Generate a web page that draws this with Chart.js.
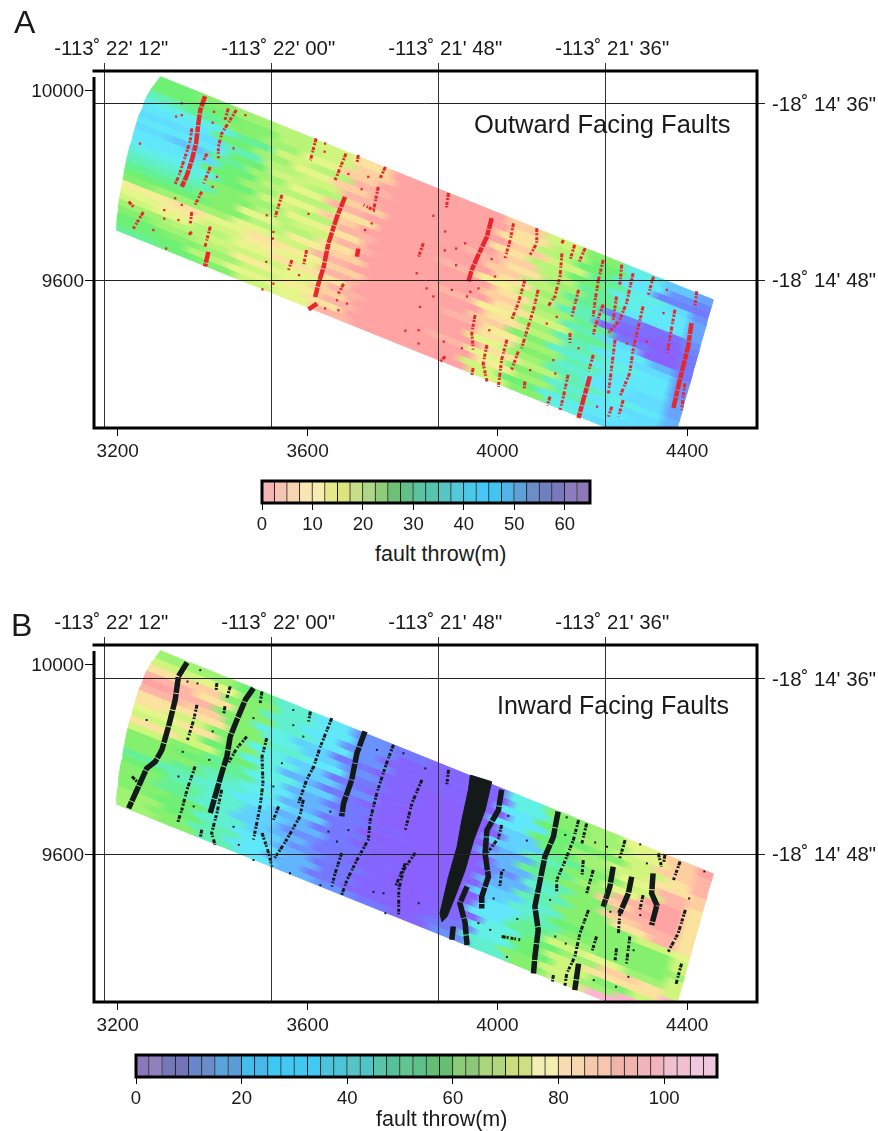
<!DOCTYPE html>
<html>
<head>
<meta charset="utf-8">
<title>Fault throw</title>
<script src="https://cdn.jsdelivr.net/npm/chart.js@4"></script>
<style>
  body { margin: 0; background: #fff; font-family: "Liberation Sans", Arial, sans-serif; color: #1a1a1a; }
  #page { position: relative; width: 878px; height: 1131px; overflow: hidden; }
  canvas { position: absolute; left: 0; }
  .txt { position: absolute; white-space: nowrap; line-height: 1; }
</style>
</head>
<body>
<div id="page">
  <canvas id="mapA" width="878" height="470" style="top:0"></canvas>
  <canvas id="barA" width="878" height="70" style="top:470px"></canvas>
  <canvas id="mapB" width="878" height="470" style="top:574px"></canvas>
  <canvas id="barB" width="878" height="70" style="top:1044px"></canvas>
  <div class="txt" style="left:14px;top:6px;font-size:32px">A</div>
  <div class="txt" style="left:11px;top:609px;font-size:32px">B</div>
  <div class="txt" style="left:474px;top:112px;font-size:25.5px">Outward Facing Faults</div>
  <div class="txt" style="left:497px;top:693px;font-size:25px">Inward Facing Faults</div>
  <div class="txt" style="left:375px;top:544px;font-size:21.5px">fault throw(m)</div>
  <div class="txt" style="left:376px;top:1109px;font-size:21.5px">fault throw(m)</div>
</div>
<script>
// axis ticks
const xTicks = [3200, 3600, 4000, 4400];
const yTicks = [10000, 9600];
const lonTicks = [3171.6, 3523.4, 3875.3, 4227.2];
const lonLabels = ['-113˚ 22\' 12"', '-113˚ 22\' 00"', '-113˚ 21\' 48"', '-113˚ 21\' 36"'];
const latTicksA = [9972.6, 9600];
const latTicksB = [9970.5, 9600];
const latLabels = ['-18˚ 14\' 36"', '-18˚ 14\' 48"'];

// survey swath outline: ends of each along-track strip
const leftX = [3290,3280,3270,3262,3256,3252,3245,3241,3237,3233,3230,3225,3222,3219,3216,3214,3211,3209,3206,3204,3202,3201,3199,3198,3197];
const leftY = [10030,10016,10003,9989,9976,9962,9949,9936,9922,9909,9895,9882,9868,9855,9841,9828,9814,9801,9787,9774,9761,9747,9734,9721,9707];
const rightX = [4455,4451,4447,4443,4440,4436,4432,4428,4425,4421,4417,4413,4410,4406,4402,4398,4394,4391,4387,4383,4379,4376,4372,4368,4364];
const rightY = [9560,9546,9533,9520,9506,9493,9479,9466,9452,9439,9425,9412,9399,9385,9372,9358,9345,9331,9318,9304,9291,9278,9264,9251,9237];
const colBreaks = [0,.07,.14,.21,.28,.35,.42,.49,.56,.63,.7,.77,.84,.91,.975,1];
// small shift of the column breaks per strip, the edges are fringed
const rowShift = [0,.012,-.008,.018,-.014,.006,.02,-.012,.01,-.018,.014,-.004,.016,-.01,.008,-.016,.012,.002,-.012,.018,-.006,.01,-.014,.004];

// fault throw (m) along each strip
const throwA = [
  [25,22.5,20,17.5,15,7.5,0,0,0,5,15,22.5,35,42.5,47.5],
  [25,25,22.5,17.5,15,5,0,0,0,7.5,17.5,25,37.5,50,52.5],
  [30,27.5,22.5,20,12.5,5,0,0,0,7.5,17.5,25,37.5,52.5,55],
  [35,35,27.5,15,17.5,2.5,0,0,0,5,15,27.5,35,40,50],
  [37.5,37.5,25,20,12.5,5,0,0,0,7.5,17.5,25,35,37.5,47.5],
  [40,40,30,17.5,15,2.5,0,0,0,5,17.5,27.5,35,37.5,47.5],
  [37.5,37.5,25,15,17.5,5,0,0,2.5,7.5,20,27.5,37.5,37.5,47.5],
  [40,42.5,27.5,20,12.5,2.5,0,0,0,5,17.5,27.5,52.5,57.5,50],
  [37.5,40,25,17.5,17.5,7.5,0,0,0,7.5,20,30,57.5,60,52.5],
  [37.5,37.5,25,20,12.5,5,0,0,2.5,10,17.5,30,60,62.5,55],
  [35,35,25,15,17.5,2.5,0,0,0,7.5,20,27.5,55,62.5,55],
  [32.5,32.5,22.5,20,12.5,7.5,0,0,0,5,17.5,30,40,62.5,55],
  [30,30,22.5,17.5,15,2.5,0,0,0,7.5,15,27.5,37.5,45,55],
  [27.5,27.5,22.5,12.5,17.5,7.5,0,0,2.5,10,20,30,37.5,40,50],
  [25,25,22.5,17.5,10,5,0,0,0,7.5,17.5,30,35,37.5,50],
  [22.5,20,20,12.5,15,2.5,0,0,0,5,22.5,32.5,35,37.5,50],
  [10,7.5,12.5,7.5,10,5,0,0,2.5,10,20,30,37.5,37.5,47.5],
  [12.5,10,15,10,12.5,2.5,0,0,0,7.5,22.5,32.5,37.5,40,47.5],
  [15,12.5,17.5,12.5,7.5,7.5,0,0,0,12.5,20,30,37.5,40,47.5],
  [20,17.5,15,15,12.5,2.5,0,0,0,7.5,17.5,30,35,37.5,45],
  [22.5,20,17.5,10,12.5,5,0,0,2.5,12.5,22.5,32.5,37.5,40,45],
  [25,22.5,20,15,10,2.5,0,0,0,10,20,30,37.5,40,47.5],
  [25,25,17.5,12.5,12.5,7.5,0,0,0,15,25,35,37.5,40,47.5],
  [27.5,25,22.5,15,12.5,2.5,0,0,0,15,22.5,35,40,42.5,50]
];
const throwB = [
  [65,65,55,40,30,15,10,5,5,35,60,65,75,85,95],
  [70,75,60,42,30,17,7,5,5,35,60,67,75,85,90],
  [80,85,60,42,32,15,5,5,2,32,57,65,72,85,92],
  [88,82,62,40,30,15,7,5,2,30,55,62,70,80,90],
  [95,90,60,37,27,12,5,2,0,30,55,65,72,82,87],
  [88,85,60,37,27,15,5,2,2,27,55,65,75,90,85],
  [80,82,60,40,30,12,7,2,0,25,50,62,72,92,82],
  [82,72,60,37,25,10,5,2,0,25,47,62,75,95,82],
  [75,78,62,37,27,15,2,2,2,22,50,65,90,97,80],
  [70,70,55,35,22,10,5,2,0,20,50,60,87,95,80],
  [80,72,55,35,25,12,2,0,0,20,45,60,90,95,80],
  [68,62,52,37,22,10,5,2,2,15,42,60,85,92,80],
  [60,57,50,32,22,12,5,0,0,20,45,62,82,90,80],
  [62,60,45,35,20,10,2,0,0,20,45,60,60,70,75],
  [58,52,42,30,25,10,5,2,5,25,40,58,60,60,72],
  [52,45,40,30,20,10,5,2,2,25,42,55,58,60,70],
  [55,47,40,27,22,12,7,2,0,30,45,60,60,58,67],
  [60,50,38,27,17,10,5,2,2,30,50,65,60,60,70],
  [60,52,38,25,20,10,5,0,5,30,50,70,75,65,72],
  [62,55,40,27,17,12,7,0,5,35,55,65,85,80,72],
  [62,55,42,30,20,10,5,0,7,35,55,72,80,82,105],
  [65,57,45,30,22,10,7,2,10,37,55,68,62,72,105],
  [65,60,45,32,20,12,5,2,12,40,60,70,65,105,110],
  [65,60,47,32,22,15,10,5,15,40,60,72,105,110,110]
];

// colours of the swath, one per 2.5 m (A) and per 5 m (B)
const swathColorsA = ["#ffa3a3","#ffb5a5","#ffcfa0","#fbe29e","#f5ee96","#e4f58a","#cff57d","#b8f478","#a0f272","#84f06e","#6ef075","#66f095","#62f0b5","#60f0d0","#60eee6","#60e8fa","#60dcff","#60c8ff","#62b4ff","#66a4ff","#6a92ff","#6e84ff","#7478ff","#7c6eff","#8466ff","#8a60ff","#8a60ff"];
const swathColorsB = ["#8a60ff","#8466ff","#7478ff","#6a92ff","#62b4ff","#60d0ff","#60e8fa","#60f0e6","#60f0d0","#62f0b5","#66f095","#6ef075","#84f06e","#a0f272","#cff57d","#e4f58a","#fbe29e","#ffcfa0","#ffb5a5","#ffa3a3","#ffa3b0","#ffb5d0","#ffc8e8"];

// colour bars, one cell per 2.5 units
const barColorsA = ["#f5b5b5","#f6c4b2","#f7d5b3","#f9e6b2","#f8ecb0","#e4e888","#dce480","#c6df86","#aed788","#8fcc78","#6cc176","#62bf88","#5cc3a0","#57c4ae","#56c5c4","#52c8d8","#4ac8e8","#45c8f5","#40c4f0","#52b4e8","#5fa0d8","#6a8ec8","#6f80c0","#7878bc","#8c7cbc","#9078b8"];
const barColorsB = ["#8a78ba","#9080bc","#7478ba","#7474b8","#6688c8","#6a8cc8","#5aa4dc","#5a9cd8","#44bcec","#48b8e8","#40c8f4","#42c8f4","#40c8f4","#44c8f0","#4cc4dc","#4cc4d8","#56c4c4","#50c4c8","#58c4a8","#56c098","#62c490","#5cc088","#62be72","#66be70","#8ccc78","#8cc878","#acd67c","#b0d680","#ccdc80","#cede80","#f4eeb4","#f4eeb0","#f7dcb0","#f7d8ae","#f6c9ae","#f6c6ae","#f0b4aa","#f0b4ac","#f0b4bc","#f0b4bc","#f0c0d0","#f0c0d0","#f0c8dc","#f0c8dc"];

// outward facing faults, traces as x,y vertices
const redDense = [
  [[3384,9989],[3374,9960],[3370,9932],[3365,9889],[3356,9854],[3346,9823],[3335,9798]],
  [[3679,9777],[3662,9735],[3644,9679],[3634,9630],[3623,9594],[3616,9566]],
  [[3620,9552],[3602,9540]],
  [[3391,9661],[3384,9630]],
  [[3988,9732],[3978,9693],[3960,9655],[3946,9623],[3939,9599]],
  [[4409,9511],[4402,9462],[4388,9406],[4378,9363],[4371,9332]],
  [[4195,9399],[4181,9349],[4171,9311]],
  [[3707,9668],[3704,9651]]
];
const redSparse = [
  [[3356,9921],[3353,9896],[3342,9861],[3328,9819],[3321,9804]],
  [[3450,9960],[3437,9939],[3419,9910],[3412,9882],[3412,9858]],
  [[3433,9963],[3426,9939]],
  [[3395,9840],[3381,9805]],
  [[3388,9868],[3381,9854]],
  [[3377,9788],[3363,9760]],
  [[3356,9745],[3353,9721]],
  [[3395,9714],[3384,9672]],
  [[3223,9767],[3233,9756]],
  [[3254,9745],[3233,9710]],
  [[3618,9900],[3606,9854]],
  [[3681,9868],[3658,9812]],
  [[3764,9840],[3753,9816]],
  [[3749,9798],[3739,9749],[3718,9760]],
  [[3546,9781],[3532,9735]],
  [[3598,9665],[3591,9630]],
  [[3676,9594],[3665,9573]],
  [[3844,9679],[3834,9651]],
  [[3356,9703],[3349,9696]],
  [[3707,9865],[3704,9847]],
  [[3567,9644],[3560,9623]],
  [[3897,9785],[3892,9750]],
  [[4034,9721],[4027,9686],[4016,9648]],
  [[4083,9711],[4083,9679],[4069,9655]],
  [[4139,9686],[4136,9679]],
  [[4163,9676],[4153,9644]],
  [[4185,9669],[4171,9637]],
  [[4136,9658],[4132,9609],[4121,9567],[4107,9547]],
  [[4223,9644],[4213,9602],[4206,9560],[4202,9525]],
  [[4223,9550],[4206,9504],[4202,9486]],
  [[4262,9634],[4258,9592]],
  [[4286,9616],[4272,9553],[4258,9518],[4234,9490]],
  [[4329,9609],[4318,9571]],
  [[4251,9567],[4244,9518]],
  [[4307,9546],[4297,9504],[4286,9455],[4279,9406],[4258,9356]],
  [[4248,9476],[4241,9420],[4234,9363]],
  [[4265,9349],[4255,9314]],
  [[4241,9335],[4234,9314]],
  [[4420,9578],[4416,9542]],
  [[4395,9384],[4388,9328]],
  [[4374,9539],[4364,9483],[4358,9448]],
  [[3953,9528],[3946,9490],[3949,9455]],
  [[3978,9465],[3970,9426],[3978,9388]],
  [[4020,9476],[4009,9434],[4002,9377]],
  [[4044,9451],[4030,9413]],
  [[4086,9581],[4076,9539],[4065,9504],[4051,9458]],
  [[4058,9602],[4044,9553],[4030,9518]],
  [[4171,9581],[4157,9525]],
  [[4153,9490],[4153,9469]],
  [[4202,9444],[4192,9409]],
  [[4149,9402],[4139,9356],[4132,9328]],
  [[4111,9356],[4105,9337]],
  [[4058,9388],[4056,9370]],
  [[3949,9416],[3946,9402]],
  [[3890,9441],[3879,9429]]
];
const redDots = [[3335,9974],[3323,9946],[3335,9949],[3403,9956],[3400,9933],[3247,9889],[3469,9949],[3444,9879],[3409,9819],[3400,9798],[3321,9774],[3335,9760],[3298,9749],[3298,9731],[3328,9728],[3275,9707],[3302,9668],[3514,9738],[3528,9703],[3527,9689],[3513,9640],[3582,9612],[3528,9594],[3505,9582],[3602,9741],[3637,9889],[3636,9872],[3686,9825],[3728,9819],[3714,9793],[3735,9721],[3721,9707],[3830,9616],[3851,9584],[3837,9545],[3834,9496],[3806,9495],[3834,9468],[3662,9559],[3683,9552],[3665,9538],[3637,9542],
  [3865,9737],[3890,9704],[3932,9679],[3913,9668],[3889,9664],[3913,9633],[3988,9646],[3995,9609],[3904,9581],[3943,9577],[3960,9584],[3936,9567],[3865,9567],[3983,9496],[3887,9472],[3925,9458],[4104,9510],[4125,9524],[4118,9433],[4069,9412],[4122,9405],[4171,9458],[4210,9335],[4315,9472],[4273,9468],[4350,9532],[4357,9581]];

// inward facing faults
const blackBand = [[3943,9768],[3988,9754],[3974,9694],[3950,9631],[3932,9568],[3911,9512],[3894,9470],[3883,9459],[3879,9477],[3897,9554],[3915,9617],[3925,9673],[3939,9737],[3943,9768]];
const blackDense = [
  [[3346,10005],[3328,9976],[3321,9926],[3307,9870],[3293,9821],[3279,9796],[3261,9782],[3247,9751],[3223,9698]],
  [[3486,9951],[3469,9927],[3451,9884],[3437,9849],[3430,9807],[3419,9772],[3405,9723],[3395,9688]],
  [[3721,9860],[3704,9814],[3693,9758],[3676,9709],[3672,9681]],
  [[4009,9737],[4002,9694],[3978,9652],[3974,9603],[3981,9554],[3967,9512],[3967,9487]],
  [[3936,9533],[3921,9498],[3932,9456],[3936,9410]],
  [[3907,9449],[3904,9421]],
  [[4128,9691],[4118,9638],[4100,9596],[4086,9526],[4079,9491],[4086,9442],[4079,9385],[4076,9350]],
  [[4244,9575],[4237,9533],[4223,9491]],
  [[4283,9554],[4276,9519],[4258,9477]],
  [[4171,9371],[4163,9315]],
  [[4328,9561],[4325,9519],[4336,9494],[4325,9452]]
];
const blackSparse = [
  [[3367,9916],[3360,9884],[3347,9842]],
  [[3472,9849],[3451,9825],[3433,9793]],
  [[3419,9737],[3409,9688],[3398,9646],[3405,9621]],
  [[3363,9786],[3346,9737],[3335,9695],[3326,9667]],
  [[3514,9846],[3504,9807],[3506,9751],[3500,9702],[3486,9632]],
  [[3651,9888],[3627,9828],[3613,9786],[3598,9758],[3581,9709]],
  [[3591,9716],[3584,9681],[3556,9632],[3528,9589]],
  [[3504,9646],[3518,9604],[3525,9575]],
  [[3781,9832],[3764,9786],[3746,9730],[3732,9674],[3728,9632],[3704,9589],[3683,9547],[3672,9516]],
  [[3672,9604],[3658,9561],[3651,9533]],
  [[3841,9758],[3820,9709],[3806,9653]],
  [[3827,9604],[3802,9568],[3792,9526],[3792,9470]],
  [[3806,9582],[3785,9533]],
  [[3606,9902],[3602,9881]],
  [[3437,9955],[3430,9930]],
  [[3504,9944],[3500,9920]],
  [[3539,9702],[3528,9674]],
  [[3230,9765],[3244,9751]],
  [[3426,9913],[3423,9895]],
  [[3409,9962],[3407,9944]],
  [[3377,9653],[3374,9635]],
  [[4009,9663],[4002,9635],[3978,9603]],
  [[4171,9673],[4160,9631],[4142,9586],[4125,9547],[4125,9519]],
  [[4188,9666],[4178,9624]],
  [[4255,9435],[4258,9477]],
  [[4269,9631],[4258,9593]],
  [[4192,9484],[4174,9435],[4163,9385],[4146,9350],[4142,9322]],
  [[4209,9428],[4199,9396]],
  [[4202,9568],[4188,9519]],
  [[4385,9586],[4371,9547]],
  [[4339,9603],[4346,9575]],
  [[4353,9600],[4350,9582]],
  [[4396,9484],[4381,9435],[4360,9396]],
  [[4388,9371],[4376,9326]],
  [[4279,9428],[4272,9371]],
  [[4181,9589],[4178,9554]],
  [[4251,9403],[4248,9378]],
  [[4307,9515],[4300,9484]],
  [[4009,9565],[4005,9533]],
  [[4118,9347],[4116,9333]],
  [[4009,9428],[4048,9421]],
  [[3897,9779],[3893,9744]]
];
const blackDots = [[3374,9989],[3368,9961],[3347,9965],[3261,9884],[3400,9860],[3337,9817],[3393,9800],[3486,9888],[3570,9905],[3570,9873],[3591,9849],[3546,9793],[3528,9744],[3328,9765],[3360,9702],[3648,9691],[3644,9649],[3662,9628],[3686,9652],[3563,9561],[3627,9536],[3739,9522],[3760,9519],[3764,9477],[3444,9659],[3455,9621],[3486,9589],[3746,9821],[3802,9814],[3848,9782],[3834,9498],
  [4062,9630],[4023,9682],[4143,9642],[4146,9679],[4206,9626],[4231,9617],[4301,9622],[4315,9582],[4404,9508],[4436,9565],[4042,9465],[3960,9456],[3985,9442],[4020,9385],[4122,9428],[4144,9413],[4111,9505],[4203,9336],[4250,9322],[4276,9343],[4287,9399],[4238,9480],[4301,9473],[3992,9508],[4013,9568]];

const XMIN = 3150, XMAX = 4547, YMIN = 9290, YMAX = 10042;
const fontFamily = '"Liberation Sans", Arial, sans-serif';
const tickFont = { family: fontFamily, size: 19 };
const geoFont = { family: fontFamily, size: 20.4 };
const barFont = { family: fontFamily, size: 18.5 };

// thick black box round the plot area, left side starts a bit below the top line
function framePlugin(width, gap) {
  return {
    id: 'frame',
    afterDraw(chart) {
      const a = chart.chartArea, ctx = chart.ctx;
      ctx.save();
      ctx.strokeStyle = '#000';
      ctx.lineWidth = width;
      ctx.beginPath();
      ctx.moveTo(a.left, a.top + gap);
      ctx.lineTo(a.left, a.bottom);
      ctx.lineTo(a.right, a.bottom);
      ctx.lineTo(a.right, a.top);
      ctx.lineTo(a.left - width / 2, a.top);
      if (!gap) ctx.closePath();
      ctx.stroke();
      ctx.restore();
    }
  };
}

function toPoints(trace) {
  return trace.map(p => ({ x: p[0], y: p[1] }));
}

function clamp01(v) {
  return Math.min(1, Math.max(0, v));
}

// gradient along one strip, colour held inside each column
function stripGradient(ctx, r, row, palette, step) {
  const sc = ctx.chart.scales;
  if (!ctx.chart.chartArea) return palette[0];
  const g = ctx.chart.ctx.createLinearGradient(
    sc.x.getPixelForValue(leftX[r]), sc.y.getPixelForValue(leftY[r]),
    sc.x.getPixelForValue(rightX[r]), sc.y.getPixelForValue(rightY[r]));
  const last = row.length - 1;
  row.forEach((v, c) => {
    const color = palette[Math.round(v / step)];
    const e = Math.min(.012, (colBreaks[c + 1] - colBreaks[c]) / 4);
    // the thin end column keeps its place, only inner breaks are fringed
    const from = c === 0 ? 0 : colBreaks[c] + (c === last ? 0 : rowShift[r]) + e;
    const to = c === last ? 1 : colBreaks[c + 1] + (c === last - 1 ? 0 : rowShift[r]) - e;
    g.addColorStop(clamp01(from), color);
    g.addColorStop(clamp01(to), color);
  });
  return g;
}

function swathStrips(matrix, palette, step) {
  return matrix.map((row, r) => {
    const paint = ctx => stripGradient(ctx, r, row, palette, step);
    return {
      data: [
        { x: leftX[r], y: leftY[r] }, { x: rightX[r], y: rightY[r] },
        { x: rightX[r + 1], y: rightY[r + 1] }, { x: leftX[r + 1], y: leftY[r + 1] },
        { x: leftX[r], y: leftY[r] }
      ],
      showLine: true, fill: 'shape', backgroundColor: paint, borderColor: paint,
      borderWidth: 1, pointRadius: 0
    };
  });
}

function traceSets(traces, color, width, dash) {
  return traces.map(t => ({
    data: toPoints(t), showLine: true, fill: false, borderColor: color,
    borderWidth: width, borderDash: dash, pointRadius: 0
  }));
}

function drawMap(id, sets, latTicks) {
  new Chart(document.getElementById(id), {
    type: 'scatter',
    data: { datasets: sets },
    plugins: [framePlugin(3, 6)],
    options: {
      responsive: false,
      animation: false,
      events: [],
      plugins: { legend: { display: false }, tooltip: { enabled: false } },
      scales: {
        x: {
          min: XMIN, max: XMAX, position: 'bottom',
          afterBuildTicks: s => { s.ticks = xTicks.map(v => ({ value: v })); },
          afterFit: s => { s.height = 42; },
          grid: { drawOnChartArea: false, tickLength: 8, tickColor: '#000' },
          border: { display: false },
          ticks: { font: tickFont, color: '#1a1a1a', padding: 4, maxRotation: 0, autoSkip: false, callback: v => String(v) }
        },
        x2: {
          axis: 'x', type: 'linear', min: XMIN, max: XMAX, position: 'top',
          afterBuildTicks: s => { s.ticks = lonTicks.map(v => ({ value: v })); },
          afterFit: s => { s.height = 71; },
          grid: { z: 1, color: '#333', lineWidth: 1, tickLength: 8, tickColor: '#333' },
          border: { display: false },
          ticks: { font: geoFont, color: '#1a1a1a', padding: 1, maxRotation: 0, autoSkip: false, labelOffset: 7, callback: (v, i) => lonLabels[i] }
        },
        y: {
          min: YMIN, max: YMAX, position: 'left',
          afterBuildTicks: s => { s.ticks = yTicks.map(v => ({ value: v })); },
          afterFit: s => { s.width = 94; },
          grid: { drawOnChartArea: false, tickLength: 9, tickColor: '#000' },
          border: { display: false },
          ticks: { font: tickFont, color: '#1a1a1a', padding: 1, autoSkip: false, labelOffset: 1, callback: v => String(v) }
        },
        y2: {
          axis: 'y', type: 'linear', min: YMIN, max: YMAX, position: 'right',
          afterBuildTicks: s => { s.ticks = latTicks.map(v => ({ value: v })); },
          afterFit: s => { s.width = 121; },
          grid: { z: 1, color: '#222', lineWidth: 1, tickLength: 8, tickColor: '#222' },
          border: { display: false },
          ticks: { font: geoFont, color: '#1a1a1a', padding: 7, autoSkip: false, labelOffset: 1, callback: (v, i) => latLabels[i] }
        }
      }
    }
  });
}

function drawBar(id, colors, maxVal, step, padLeft, padRight) {
  new Chart(document.getElementById(id), {
    type: 'bar',
    data: {
      labels: [''],
      datasets: colors.map(c => ({
        data: [2.5], backgroundColor: c, borderColor: '#111', borderWidth: 1,
        barPercentage: 1, categoryPercentage: 1
      }))
    },
    plugins: [framePlugin(3, 0)],
    options: {
      indexAxis: 'y',
      responsive: false,
      animation: false,
      events: [],
      layout: { padding: { left: padLeft, right: padRight, top: 11 } },
      plugins: { legend: { display: false }, tooltip: { enabled: false } },
      scales: {
        x: {
          stacked: true, min: 0, max: maxVal,
          afterFit: s => { s.height = 37; },
          grid: { drawOnChartArea: false, tickLength: 7, tickColor: '#000' },
          border: { display: false },
          ticks: { stepSize: step, includeBounds: false, font: barFont, color: '#1a1a1a', padding: 4, maxRotation: 0 }
        },
        y: { stacked: true, display: false }
      }
    }
  });
}

const redSparseDash = [4, 1, 2, 2, 3, 1, 1.5, 2.5];
const redDenseDash = [11, 1, 6, 1];
drawMap('mapA', [
  { data: toPoints(redDots), backgroundColor: '#e8262b', pointStyle: 'rect', pointRadius: 1.6, borderWidth: 0 },
  ...traceSets(redDense, '#e8262b', 4.5, redDenseDash),
  ...traceSets(redSparse, '#e8262b', 3, redSparseDash),
  ...swathStrips(throwA, swathColorsA, 2.5)
], latTicksA);

drawMap('mapB', [
  { data: toPoints(blackDots), backgroundColor: '#141a1a', pointStyle: 'rect', pointRadius: 1.4, borderWidth: 0 },
  { data: toPoints(blackBand), showLine: true, fill: 'shape', backgroundColor: '#141a1a', borderColor: '#141a1a', borderWidth: 1, pointRadius: 0 },
  ...traceSets(blackDense, '#141a1a', 5.5, [16, 1]),
  ...traceSets(blackSparse, '#141a1a', 3, [4, 1, 2, 2, 3, 1, 1.5, 2.5]),
  ...swathStrips(throwB, swathColorsB, 5)
], latTicksB);

drawBar('barA', barColorsA, 65, 10, 262, 288);
drawBar('barB', barColorsB, 110, 20, 136, 161);
</script>
</body>
</html>
